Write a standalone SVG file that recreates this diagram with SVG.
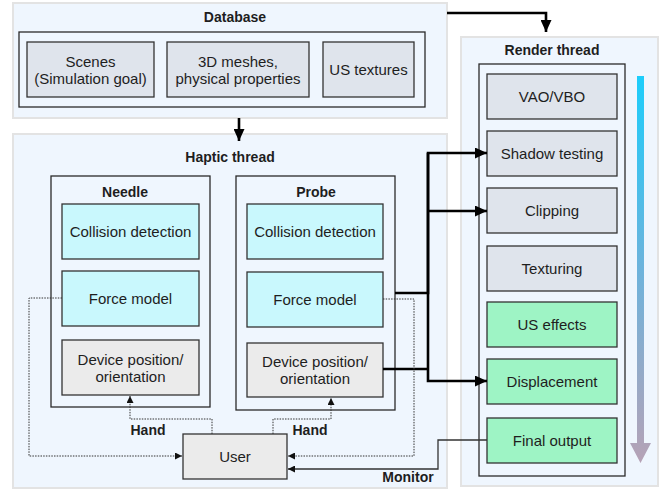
<svg xmlns="http://www.w3.org/2000/svg" width="668" height="490" viewBox="0 0 668 490">
<defs>
<style>
.panel{fill:#eff6fe;stroke:#e3e3e3;stroke-width:2}
.frame{fill:none;stroke:#2a2a2a;stroke-width:1.3}
.gray{fill:#dfe4ec;stroke:#333;stroke-width:1.3}
.lgray{fill:#ebebeb;stroke:#333;stroke-width:1.3}
.cyan{fill:#c9f8fd;stroke:#333;stroke-width:1.3}
.green{fill:#9ef4c5;stroke:#333;stroke-width:1.3}
text{font-family:"Liberation Sans",Arial,sans-serif;fill:#1e1e1e;text-anchor:middle}
.t{font-size:15px}
.b{font-size:14px;font-weight:bold}
.thick{fill:none;stroke:#000;stroke-width:2.6}
.dot{fill:none;stroke:#333;stroke-width:1;stroke-dasharray:1.5 1.2}
.thin{fill:none;stroke:#333;stroke-width:1.3}
</style>
<marker id="big" markerUnits="userSpaceOnUse" markerWidth="12" markerHeight="11" refX="12" refY="5.5" orient="auto"><path d="M0,0 L12,5.5 L0,11 z" fill="#000"/></marker>
<marker id="sm" markerUnits="userSpaceOnUse" markerWidth="7" markerHeight="7" refX="7" refY="3.5" orient="auto"><path d="M0,0 L7,3.5 L0,7 z" fill="#111"/></marker>
<linearGradient id="grad" gradientUnits="userSpaceOnUse" x1="0" y1="76" x2="0" y2="463">
<stop offset="0" stop-color="#1ccdfb"/>
<stop offset="0.5" stop-color="#6db3dc"/>
<stop offset="1" stop-color="#b6a2b6"/>
</linearGradient>
</defs>

<g id="database">
<rect class="panel" x="13" y="3" width="434" height="115"/>
<text class="b" x="235" y="22">Database</text>
<rect class="frame" x="19" y="32" width="406" height="75"/>
<g id="scenes"><rect class="gray" x="27" y="42" width="127" height="55"/><text class="t" x="90.5" y="67">Scenes</text><text class="t" x="90.5" y="84">(Simulation goal)</text></g>
<g id="meshes"><rect class="gray" x="167" y="42" width="142" height="55"/><text class="t" x="238" y="67">3D meshes,</text><text class="t" x="238" y="84">physical properties</text></g>
<g id="textures"><rect class="gray" x="323" y="42" width="91" height="55"/><text class="t" x="368.5" y="75">US textures</text></g>
</g>

<g id="haptic">
<rect class="panel" x="13" y="134" width="434" height="354"/>
<text class="b" x="230" y="162">Haptic thread</text>
</g>

<g id="needle">
<rect class="frame" x="51" y="176" width="159" height="231"/>
<text class="b" x="125" y="197">Needle</text>
<g id="needle-collision"><rect class="cyan" x="62" y="204" width="137" height="55"/><text class="t" x="130.5" y="237">Collision detection</text></g>
<g id="needle-force"><rect class="cyan" x="62" y="271" width="137" height="55"/><text class="t" x="130.5" y="304">Force model</text></g>
<g id="needle-device"><rect class="lgray" x="62" y="340" width="137" height="55"/><text class="t" x="130.5" y="365">Device position/</text><text class="t" x="130.5" y="382">orientation</text></g>
</g>

<g id="probe">
<rect class="frame" x="236" y="176" width="159" height="234"/>
<text class="b" x="316" y="197">Probe</text>
<g id="probe-collision"><rect class="cyan" x="247" y="204" width="136" height="55"/><text class="t" x="315" y="237">Collision detection</text></g>
<g id="probe-force"><rect class="cyan" x="247" y="272" width="136" height="55"/><text class="t" x="315" y="305">Force model</text></g>
<g id="probe-device"><rect class="lgray" x="247" y="343" width="136" height="54"/><text class="t" x="315" y="367">Device position/</text><text class="t" x="315" y="384">orientation</text></g>
</g>

<g id="user"><rect class="lgray" x="183" y="434" width="104" height="45"/><text class="t" x="235" y="462">User</text></g>

<g id="render">
<rect class="panel" x="461" y="37" width="197" height="449"/>
<text class="b" x="552" y="55">Render thread</text>
<rect class="frame" x="479" y="64" width="146" height="412"/>
<g id="vao"><rect class="gray" x="487" y="74" width="130" height="45"/><text class="t" x="552" y="102">VAO/VBO</text></g>
<g id="shadow"><rect class="gray" x="487" y="131" width="130" height="45"/><text class="t" x="552" y="159">Shadow testing</text></g>
<g id="clipping"><rect class="gray" x="487" y="188" width="130" height="45"/><text class="t" x="552" y="216">Clipping</text></g>
<g id="texturing"><rect class="gray" x="487" y="246" width="130" height="45"/><text class="t" x="552" y="274">Texturing</text></g>
<g id="useffects"><rect class="green" x="487" y="302" width="130" height="45"/><text class="t" x="552" y="330">US effects</text></g>
<g id="displacement"><rect class="green" x="487" y="359" width="130" height="45"/><text class="t" x="552" y="387">Displacement</text></g>
<g id="final"><rect class="green" x="487" y="418" width="130" height="45"/><text class="t" x="552" y="446">Final output</text></g>
<path d="M637,76 H644 V443 H651 L640.5,463 L630,443 H637 Z" fill="url(#grad)"/>
</g>

<g id="connectors">
<path class="thick" d="M447,13 H546 V32" marker-end="url(#big)"/>
<path class="thick" d="M239,118 V141" marker-end="url(#big)"/>
<path class="thick" d="M395,293 H428 V153 H487" marker-end="url(#big)"/>
<path class="thick" d="M428,211 H487" marker-end="url(#big)"/>
<path class="thick" d="M383,369 H428"/>
<path class="thick" d="M428,153 V381 H487" marker-end="url(#big)"/>
<path class="dot" d="M212,434 V419 H130 V396" marker-end="url(#sm)"/>
<path class="dot" d="M273,434 V419 H331 V398" marker-end="url(#sm)"/>
<path class="dot" d="M62,298 H29 V456 H182" marker-end="url(#sm)"/>
<path class="dot" d="M383,299 H414 V456 H288" marker-end="url(#sm)"/>
<path class="thin" d="M487,440 H438 V469 H288" marker-end="url(#sm)"/>
<text class="b" x="148" y="435">Hand</text>
<text class="b" x="310" y="435">Hand</text>
<text class="b" x="408" y="482">Monitor</text>
</g>
</svg>
